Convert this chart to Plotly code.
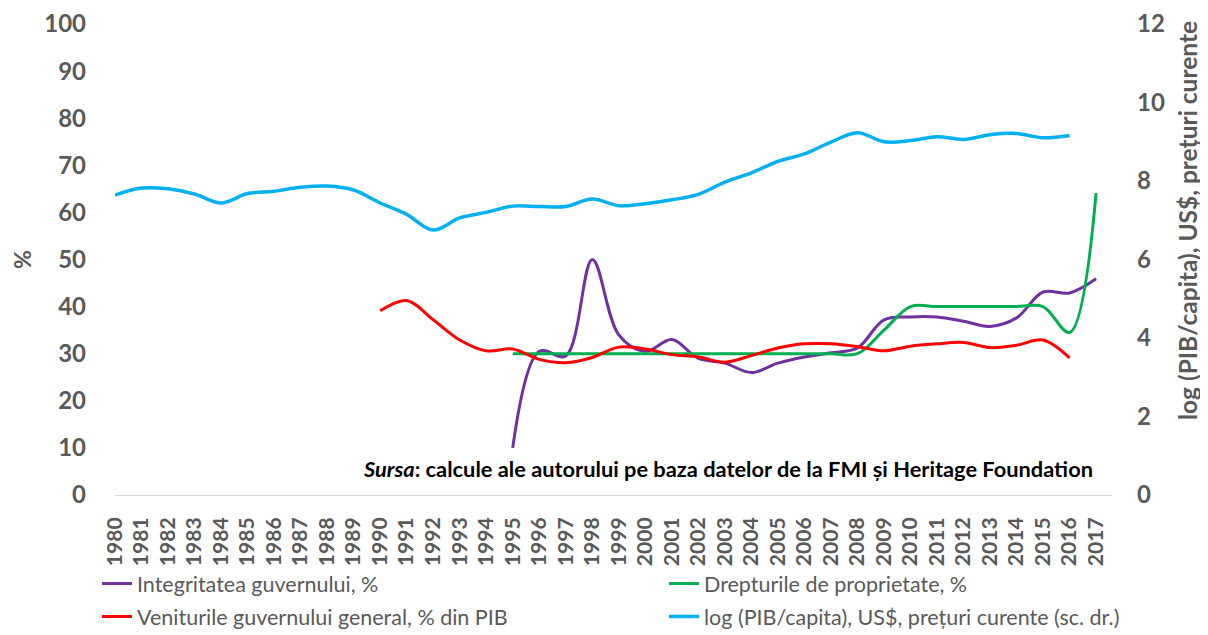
import plotly.graph_objects as go

years = list(range(1980, 2018))

integritate_years = list(range(1995, 2018))
integritate = [10, 30.5, 29.5, 50, 34, 30.5, 33, 29, 28, 26, 28, 29.3, 30.2, 31.2,
               37.2, 37.8, 37.8, 36.9, 35.8, 37.6, 43.1, 42.9, 45.9]

proprietate_years = list(range(1995, 2018))
proprietate = [30, 30, 30, 30, 30, 30, 30, 30, 30, 30, 30, 30, 30, 30,
               35, 40, 40, 40, 40, 40, 40, 34.5, 64.1]

venituri_years = list(range(1990, 2017))
venituri = [39.1, 41.3, 37.2, 32.9, 30.6, 31.0, 28.8, 28.1, 29.2, 31.4, 31.0, 29.8,
            29.3, 28.2, 29.6, 31.2, 32.1, 32.1, 31.5, 30.6, 31.6, 32.1, 32.4, 31.3,
            31.8, 32.9, 29.1]

pib_years = list(range(1980, 2017))
log_pib = [7.64, 7.82, 7.80, 7.67, 7.44, 7.68, 7.74, 7.84, 7.87, 7.77, 7.44, 7.15,
           6.75, 7.06, 7.20, 7.36, 7.35, 7.35, 7.54, 7.37, 7.42, 7.52, 7.66, 7.97,
           8.21, 8.50, 8.69, 8.99, 9.23, 9.00, 9.03, 9.13, 9.06, 9.18, 9.21, 9.10, 9.16]

names = ["Integritatea guvernului, %",
         "Drepturile de proprietate, %",
         "Veniturile guvernului general, % din PIB",
         "log (PIB/capita), US$, prețuri curente (sc. dr.)"]
colors = ["#7030A0", "#00B050", "#FF0000", "#00B0F0"]

FONT = "Lato, 'Open Sans', sans-serif"
GREY = "#595959"

fig = go.Figure()
fig.add_trace(go.Scatter(x=integritate_years, y=integritate, name=names[0], mode="lines",
                         legend="legend", legendgroup="a",
                         line=dict(color=colors[0], width=3, shape="spline", smoothing=1)))
fig.add_trace(go.Scatter(x=proprietate_years, y=proprietate, name=names[1], mode="lines",
                         legend="legend2", legendgroup="b",
                         line=dict(color=colors[1], width=3, shape="spline", smoothing=1)))
fig.add_trace(go.Scatter(x=venituri_years, y=venituri, name=names[2], mode="lines",
                         legend="legend", legendgroup="c",
                         line=dict(color=colors[2], width=3, shape="spline", smoothing=1)))
fig.add_trace(go.Scatter(x=pib_years, y=log_pib, name=names[3], mode="lines", yaxis="y2",
                         legend="legend2", legendgroup="d",
                         line=dict(color=colors[3], width=3.5, shape="spline", smoothing=1)))

legend_common = dict(orientation="v", y=-0.1445, yanchor="top", xanchor="left",
                     tracegroupgap=2, bgcolor="rgba(0,0,0,0)",
                     font=dict(size=21.5, family=FONT, color=GREY))

# the page body adds an 8 px offset, so the figure is 8 px smaller and margins shifted
fig.update_layout(
    width=1200, height=627,
    margin=dict(l=107, r=96, t=16, b=140, autoexpand=False),
    paper_bgcolor="white", plot_bgcolor="white",
    font=dict(family=FONT, color=GREY),
    xaxis=dict(range=[1980, 2017.6], tickmode="array", tickvals=years,
               ticktext=[str(y) for y in years], tickangle=-90,
               tickfont=dict(size=21, family=FONT, color=GREY, weight="bold"),
               ticklabelstandoff=13,
               showgrid=False, zeroline=False, showline=True,
               linecolor="#D9D9D9", linewidth=1, ticks=""),
    yaxis=dict(range=[0, 100], dtick=10, showgrid=False, zeroline=False, showline=False,
               tickfont=dict(size=24, family=FONT, color=GREY, weight="bold"),
               ticklabelstandoff=28),
    yaxis2=dict(range=[0, 12], dtick=2, overlaying="y", side="right", showgrid=False,
                zeroline=False, showline=False,
                tickfont=dict(size=24, family=FONT, color=GREY, weight="bold"),
                ticklabelstandoff=24),
    legend=dict(x=(97 - 115) / 997, **legend_common),
    legend2=dict(x=(664 - 115) / 997, **legend_common),
    showlegend=True,
)

fig.add_annotation(text="<i>Sursa</i>: calcule ale autorului pe baza datelor de la FMI și Heritage Foundation",
                   xref="paper", yref="paper", x=(1095 - 115) / 997, y=(495 - 468) / 471,
                   xanchor="right", yanchor="middle", showarrow=False,
                   font=dict(size=21.8, family=FONT, color="black", weight="bold"))
fig.add_annotation(text="%", xref="paper", yref="paper", x=(22 - 115) / 997, y=(495 - 260) / 471,
                   textangle=-90, showarrow=False, xanchor="center", yanchor="middle",
                   font=dict(size=23, family=FONT, color=GREY, weight="bold"))
fig.add_annotation(text="log (PIB/capita), US$, prețuri curente", xref="paper", yref="paper",
                   x=(1187 - 115) / 997, y=(495 - 221) / 471, textangle=-90, showarrow=False,
                   xanchor="center", yanchor="middle",
                   font=dict(size=24.5, family=FONT, color=GREY, weight="bold"))

fig.write_html("out.html")
